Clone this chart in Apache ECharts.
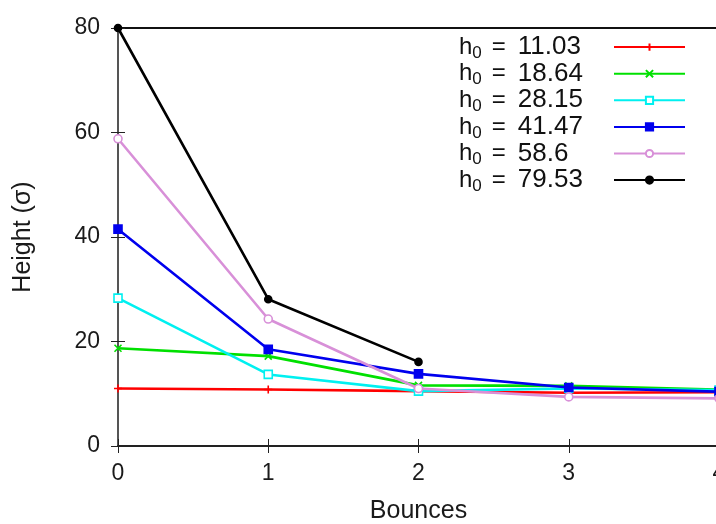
<!DOCTYPE html>
<html>
<head>
<meta charset="utf-8">
<script src="https://cdn.jsdelivr.net/npm/echarts@6/dist/echarts.min.js"></script>
<style>
  html, body { margin: 0; padding: 0; background: #fff; }
  #chart { width: 716px; height: 524px; }
</style>
</head>
<body>
<div id="chart"></div>
<script>
// Bounce number on the x axis
const bounces = [0, 1, 2, 3, 4];

// Initial drop heights (legend values)
const h0Values = ['11.03', '18.64', '28.15', '41.47', '58.6', '79.53'];

// Peak height after each bounce, one array per initial height
const heights1103 = [11.0, 10.8, 10.5, 10.2, 10.3];
const heights1864 = [18.7, 17.2, 11.6, 11.5, 10.8];
const heights2815 = [28.3, 13.7, 10.5, 11.0, 10.7];
const heights4147 = [41.5, 18.5, 13.8, 11.2, 10.4];
const heights5860 = [58.8, 24.3, 11.0, 9.4, 9.1];
const heights7953 = [80.0, 28.1, 16.1];

const yTicks = [0, 20, 40, 60, 80];

const seriesValues = [heights1103, heights1864, heights2815, heights4147, heights5860, heights7953];

const styles = [
  { color: '#ff0000', symbol: 'path://M5,0L5,10M0,5L10,5', fill: '#ff0000', size: 8 },
  { color: '#00e000', symbol: 'path://M0,0L10,10M10,0L0,10', fill: '#00e000', size: 7 },
  { color: '#00f0f0', symbol: 'rect', fill: '#ffffff', size: 8 },
  { color: '#0000ee', symbol: 'rect', fill: '#0000ee', size: 8 },
  { color: '#d890d8', symbol: 'circle', fill: '#ffffff', size: 8 },
  { color: '#000000', symbol: 'circle', fill: '#000000', size: 7 }
];

const series = seriesValues.map((vals, i) => ({
  name: h0Values[i],
  type: 'line',
  data: vals.map((v, j) => [bounces[j], v]),
  symbol: styles[i].symbol,
  symbolSize: styles[i].size,
  showAllSymbol: true,
  lineStyle: { color: styles[i].color, width: 2.6 },
  itemStyle: { color: styles[i].fill, borderColor: styles[i].color, borderWidth: 1.6 },
  z: 2 + i,
  animation: false
}));

const FONT = 'Liberation Sans, Arial, sans-serif';
const labelFont = { fontFamily: FONT, color: '#1a1a1a' };

const chart = echarts.init(document.getElementById('chart'), null, { renderer: 'canvas' });
chart.setOption({
  backgroundColor: '#ffffff',
  animation: false,
  grid: {
    left: 118, top: 28, right: -3, height: 418,
    outerBoundsMode: 'none',
    containLabel: false,
    show: true, borderColor: '#111', borderWidth: 2, backgroundColor: 'transparent'
  },
  legend: {
    orient: 'vertical',
    right: 30,
    top: 34.1,
    padding: 0,
    align: 'right',
    itemWidth: 71,
    itemHeight: 9,
    itemGap: -0.9,
    data: h0Values,
    formatter: name => '{h|h}{s|0}{e|=}{n|' + name + '}',
    textStyle: {
      width: 150,
      fontFamily: FONT,
      color: '#111',
      lineHeight: 20,
      rich: {
        h: { fontSize: 24, align: 'left', lineHeight: 20, fontFamily: FONT, color: '#111' },
        s: { fontSize: 17, align: 'left', lineHeight: 20, height: 8, verticalAlign: 'bottom', fontFamily: FONT, color: '#111' },
        e: { fontSize: 24, align: 'left', lineHeight: 20, padding: [0, 0, 0, 10], fontFamily: FONT, color: '#111' },
        n: { fontSize: 26, align: 'left', lineHeight: 20, padding: [0, 0, 0, 12], fontFamily: FONT, color: '#111' }
      }
    }
  },
  xAxis: [
    {
      type: 'value', min: 0, max: 4, interval: 1,
      name: 'Bounces', nameLocation: 'middle', nameGap: 53,
      nameTextStyle: Object.assign({ fontSize: 25 }, labelFont),
      axisLine: { lineStyle: { color: '#222', width: 2 } },
      axisTick: { inside: true, length: 7, lineStyle: { color: '#222', width: 1 } },
      axisLabel: Object.assign({ fontSize: 23, margin: 16 }, labelFont),
      splitLine: { show: false }
    },
    {
      type: 'value', min: 0, max: 4, interval: 1, position: 'top',
      axisLine: { show: false },
      axisTick: { inside: true, length: 7, lineStyle: { color: '#222', width: 1 } },
      axisLabel: { show: false },
      splitLine: { show: false }
    }
  ],
  yAxis: [
    {
      type: 'value', min: yTicks[0], max: yTicks[yTicks.length - 1], interval: 20,
      name: 'Height (σ)', nameLocation: 'middle', nameGap: 82,
      nameTextStyle: Object.assign({ fontSize: 25 }, labelFont),
      axisLine: { show: true, lineStyle: { color: '#555', width: 2 } },
      axisTick: { inside: true, length: 7, lineStyle: { color: '#222', width: 1 } },
      axisLabel: Object.assign({ fontSize: 23, margin: 18 }, labelFont),
      splitLine: { show: false }
    },
    {
      type: 'value', min: 0, max: 80, interval: 20, position: 'right',
      axisLine: { show: false },
      axisTick: { inside: true, length: 7, lineStyle: { color: '#222', width: 1 } },
      axisLabel: { show: false },
      splitLine: { show: false }
    }
  ],
  series: series
});
</script>
</body>
</html>
